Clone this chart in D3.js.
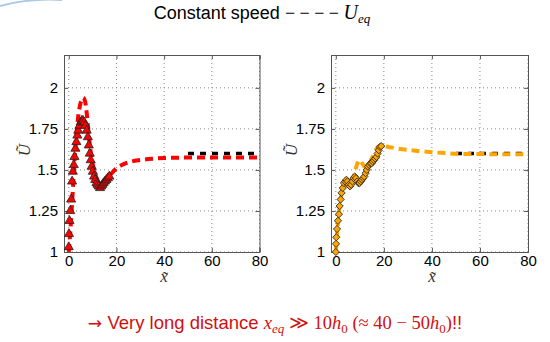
<!DOCTYPE html>
<html><head><meta charset="utf-8">
<script src="https://cdn.jsdelivr.net/npm/d3@7"></script>
<style>body{margin:0;background:#fff}svg{display:block}</style>
</head><body>
<svg id="c" width="550" height="342"></svg>
<script>
// ---- data ----
const xTicks = [0, 20, 40, 60, 80];
const yTicks = [1, 1.25, 1.5, 1.75, 2];
const Ueq = 1.6;
const eqX = [50, 80];

// left panel: simulation (dashed red) and experiment (triangles)
const leftLineX = [0,1,2,3,4,5,6,6.8,7.5,8.2,9,10,11,12,13,14,15,16,18,20,23,26,30,35,40,50,60,80];
const leftLineY = [1.0,1.2,1.45,1.68,1.83,1.91,1.94,1.92,1.85,1.74,1.63,1.54,1.48,1.44,1.415,1.41,1.42,1.44,1.48,1.51,1.535,1.55,1.56,1.568,1.572,1.575,1.575,1.575];
const leftMarkX = [0,0.1,0.3,0.6,1.0,1.4,1.7,2.1,2.4,2.8,3.2,3.6,4.0,4.5,5.0,5.5,6.0,6.5,7.0,7.5,8.0,8.4,8.8,9.2,9.6,10.1,10.6,11.1,11.6,12.1,12.6,13.1,13.6,14.1,14.6,15.2,15.8,16.4,17.0];
const leftMarkY = [1.03,1.11,1.19,1.25,1.32,1.43,1.49,1.53,1.58,1.63,1.67,1.71,1.74,1.77,1.79,1.80,1.80,1.79,1.77,1.74,1.70,1.65,1.60,1.56,1.52,1.49,1.46,1.44,1.42,1.41,1.40,1.39,1.40,1.41,1.42,1.43,1.44,1.45,1.46];

// right panel: simulation (dashed orange) and experiment (diamonds)
const rightLineX = [0,1,2,3,4,5,6,7,8,9,10,11,12,13,14,15,16,17,18,19,21,25,30,38,45,50,80];
const rightLineY = [1.0,1.2,1.32,1.39,1.42,1.43,1.42,1.44,1.49,1.54,1.56,1.54,1.52,1.52,1.54,1.57,1.6,1.63,1.645,1.65,1.643,1.632,1.622,1.61,1.603,1.598,1.595];
const rightMarkX = [0,0.1,0.2,0.5,0.9,1.3,1.6,2.0,2.4,2.9,3.4,3.9,4.4,4.9,5.4,5.9,6.4,6.9,7.4,7.9,8.4,8.9,9.4,9.9,10.4,10.9,11.4,11.9,12.4,12.9,13.4,13.9,14.4,14.9,15.4,15.9,16.4,16.9,17.4,17.9,18.4,18.9];
const rightMarkY = [1.0,1.05,1.09,1.14,1.19,1.23,1.28,1.32,1.36,1.39,1.42,1.43,1.44,1.43,1.41,1.40,1.41,1.43,1.45,1.46,1.45,1.43,1.42,1.42,1.43,1.44,1.45,1.46,1.48,1.5,1.52,1.53,1.54,1.54,1.55,1.56,1.57,1.58,1.6,1.62,1.64,1.645];

const svg = d3.select("#c");
const SANS = "'Liberation Sans', Arial, sans-serif";
const SERIF = "'Liberation Serif', 'DejaVu Serif', serif";

// decorative slide arc top-left
svg.append("path").attr("d","M0,6 Q30,-2 62,0").attr("fill","none").attr("stroke","#a9c8ea").attr("stroke-width",2);

// title
const t = svg.append("text").attr("x",262).attr("y",19).attr("text-anchor","middle")
  .attr("font-family",SANS).attr("font-size",18).attr("fill","#000");
t.append("tspan").text("Constant speed ");
t.append("tspan").attr("font-family",SERIF).text("− − − − ");
t.append("tspan").attr("font-family",SERIF).attr("font-style","italic").attr("font-size",20).text("U");
t.append("tspan").attr("font-family",SERIF).attr("font-style","italic").attr("font-size",13).attr("dy",4).text("eq");

// bottom remark
const b = svg.append("text").attr("x",275).attr("y",329).attr("text-anchor","middle")
  .attr("font-family",SANS).attr("font-size",18.5).attr("fill","#d01010");
b.append("tspan").attr("font-family","'DejaVu Sans', sans-serif").attr("font-size",17).text("→ ");
b.append("tspan").text("Very long distance ");
b.append("tspan").attr("font-family",SERIF).attr("font-style","italic").text("x");
b.append("tspan").attr("font-family",SERIF).attr("font-style","italic").attr("font-size",13).attr("dy",4).text("eq");
b.append("tspan").attr("font-family",SERIF).attr("dy",-4).text(" ≫ 10");
b.append("tspan").attr("font-family",SERIF).attr("font-style","italic").text("h");
b.append("tspan").attr("font-family",SERIF).attr("font-size",13).attr("dy",4).text("0");
b.append("tspan").attr("font-family",SERIF).attr("dy",-4).text(" (≈ 40 − 50");
b.append("tspan").attr("font-family",SERIF).attr("font-style","italic").text("h");
b.append("tspan").attr("font-family",SERIF).attr("font-size",13).attr("dy",4).text("0");
b.append("tspan").attr("font-family",SERIF).attr("dy",-4).text(")");
b.append("tspan").text("!!");

function panel(x0, x1, lx, ly, mx, my, color, marker, ylabX) {
  const x = d3.scaleLinear([-2, 80], [x0, x1]);
  const y = d3.scaleLinear([1, 2.2], [252, 55]);
  const g = svg.append("g");
  // grid
  g.selectAll(".gx").data(xTicks).join("line")
    .attr("x1", d=>x(d)).attr("x2", d=>x(d)).attr("y1", y(1)).attr("y2", y(2.2))
    .attr("stroke","#888").attr("stroke-width",1).attr("stroke-dasharray","1,3");
  g.selectAll(".gy").data(yTicks).join("line")
    .attr("x1", x(-2)).attr("x2", x(80)).attr("y1", d=>y(d)).attr("y2", d=>y(d))
    .attr("stroke","#888").attr("stroke-width",1).attr("stroke-dasharray","1,3");
  // axes
  const ax = g.append("g").attr("transform",`translate(0,${y(1)})`)
    .call(d3.axisBottom(x).tickValues(xTicks).tickSize(-4).tickPadding(3).tickFormat(d=>d));
  const ay = g.append("g").attr("transform",`translate(${x(-2)},0)`)
    .call(d3.axisLeft(y).tickValues(yTicks).tickSize(-4).tickPadding(6).tickFormat(d=>d));
  const at = g.append("g").attr("transform",`translate(0,${y(2.2)})`)
    .call(d3.axisTop(x).tickValues(xTicks).tickSize(-4).tickFormat(""));
  const ar = g.append("g").attr("transform",`translate(${x(80)},0)`)
    .call(d3.axisRight(y).tickValues(yTicks).tickSize(-4).tickFormat(""));
  [ax, ay, at, ar].forEach(a => {
    a.select(".domain").attr("stroke","#555");
    a.selectAll(".tick line").attr("stroke","#555");
    a.selectAll("text").attr("font-family",SANS).attr("font-size",15).attr("fill","#000");
  });
  // axis labels
  g.append("text").attr("x", x(40)).attr("y", 282).attr("text-anchor","middle")
    .attr("font-family",SERIF).attr("font-style","italic").attr("font-size",17).attr("fill","#333").text("x\u0303");
  g.append("text").attr("transform",`translate(${ylabX},${y(1.62)}) rotate(-90)`).attr("text-anchor","middle")
    .attr("font-family",SERIF).attr("font-style","italic").attr("font-size",17).attr("fill","#333").text("U\u0303");
  // U_eq black dashed
  const line = d3.line().x(d=>x(d[0])).y(d=>y(d[1]));
  g.append("path").attr("d", line(eqX.map(v=>[v, Ueq])))
    .attr("fill","none").attr("stroke","#000").attr("stroke-width",3.5).attr("stroke-dasharray","6,6");
  // simulation dashed line
  g.append("path").attr("d", d3.line().curve(d3.curveMonotoneX).x(d=>x(d[0])).y(d=>y(d[1]))(lx.map((v,i)=>[v, ly[i]])))
    .attr("fill","none").attr("stroke",color).attr("stroke-width",4).attr("stroke-dasharray","8,5");
  // markers
  const sym = marker === "tri" ? d3.symbol(d3.symbolTriangle, 36) : d3.symbol(d3.symbolSquare, 26);
  g.selectAll(".m").data(mx.map((v,i)=>[v, my[i]])).join("path")
    .attr("d", sym)
    .attr("transform", d => `translate(${x(d[0])},${y(d[1])})` + (marker === "tri" ? "" : " rotate(45)"))
    .attr("fill", color).attr("stroke","#222").attr("stroke-width",0.8);
}

panel(64, 259.5, leftLineX, leftLineY, leftMarkX, leftMarkY, "#ff0000", "tri", 30);
panel(331, 528, rightLineX, rightLineY, rightMarkX, rightMarkY, "#ffa500", "dia", 297);
</script>
</body></html>
